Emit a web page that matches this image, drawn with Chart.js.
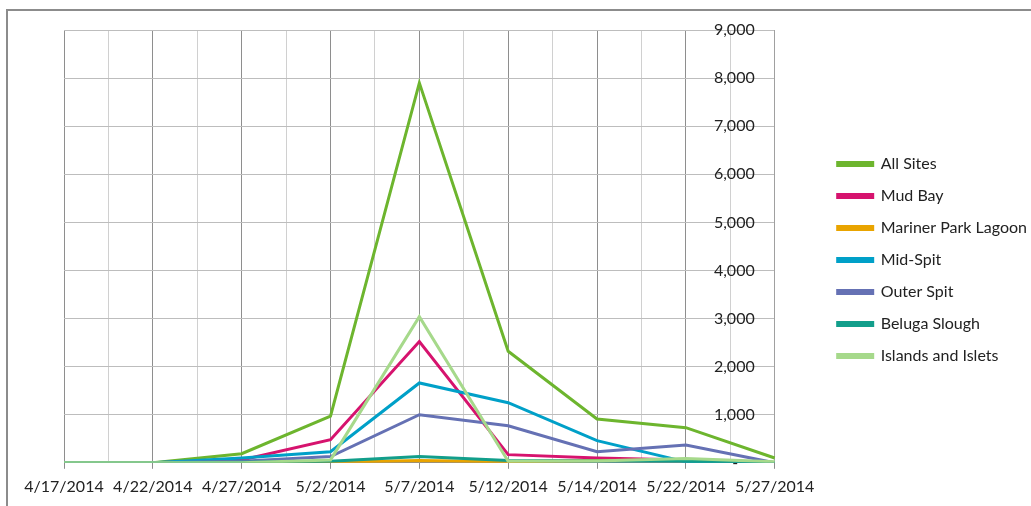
<!DOCTYPE html>
<html>
<head>
<meta charset="utf-8">
<script src="https://cdn.jsdelivr.net/npm/chart.js@4.4.1/dist/chart.umd.min.js"></script>
<style>
  html, body { margin: 0; padding: 0; background: #fff; }
  #wrap { position: relative; width: 1031px; height: 506px; }
  #frame { position: absolute; left: 6px; top: 9px; right: 0; bottom: 0;
           border-top: 2px solid #8c8c8c; border-left: 2px solid #8c8c8c; }
  canvas { position: absolute; left: 0; top: 0; }
</style>
</head>
<body>
<div id="wrap">
  <div id="frame"></div>
  <canvas id="grafico" width="1031" height="506"></canvas>
</div>
<script>
// fechas de muestreo
const fechas = ['4/17/2014', '4/22/2014', '4/27/2014', '5/2/2014', '5/7/2014', '5/12/2014', '5/14/2014', '5/22/2014', '5/27/2014'];

// conteos por sitio
const allSites   = [0, 0, 190, 970, 7900, 2320, 910, 730, 100];
const mudBay     = [0, 0, 60, 480, 2520, 170, 100, 60, 0];
const mariner    = [0, 0, 0, 10, 50, 20, 50, 60, 0];
const midSpit    = [0, 0, 100, 230, 1660, 1250, 460, 20, 0];
const outerSpit  = [0, 0, 30, 130, 1000, 770, 230, 370, 0];
const beluga     = [0, 0, 10, 30, 130, 50, 40, 30, 0];
const islands    = [0, 0, 0, 60, 3040, 30, 40, 90, 20];

const series = [
  { label: 'All Sites', data: allSites, color: '#6db52e' },
  { label: 'Mud Bay', data: mudBay, color: '#d6136e' },
  { label: 'Mariner Park Lagoon', data: mariner, color: '#e9a400' },
  { label: 'Mid-Spit', data: midSpit, color: '#00a0c8' },
  { label: 'Outer Spit', data: outerSpit, color: '#6571b4' },
  { label: 'Beluga Slough', data: beluga, color: '#129e8b' },
  { label: 'Islands and Islets', data: islands, color: '#a6d98b' }
];

const fuente = { family: 'Lato', size: 16 };

const ctx = document.getElementById('grafico');

const grafico = new Chart(ctx, {
  type: 'line',
  data: {
    labels: fechas,
    datasets: series.map((s, i) => ({
      label: s.label,
      data: s.data,
      borderColor: s.color,
      backgroundColor: s.color,
      borderWidth: 3,
      pointRadius: 0,
      tension: 0,
      order: -i // el ultimo encima, como en Excel
    }))
  },
  options: {
    responsive: false,
    animation: false,
    layout: {
      padding: { left: 64, top: 30, right: -6, bottom: 2 }
    },
    plugins: {
      tooltip: { enabled: false },
      legend: {
        position: 'right',
        align: 'start',
        // titulo vacio solo para bajar los elementos
        title: { display: true, text: '', font: { size: 10 }, padding: { top: 49, bottom: 49 } },
        labels: {
          sort: (a, b) => a.datasetIndex - b.datasetIndex,
          boxWidth: 35,
          boxHeight: 3,
          padding: 16,
          color: '#222',
          font: { family: 'Lato', size: 16 }
        }
      }
    },
    scales: {
      x: {
        type: 'category',
        offset: false,
        grid: {
          drawOnChartArea: false,
          drawTicks: true,
          tickLength: 6,
          color: '#8c8c8c'
        },
        border: { color: '#8c8c8c' },
        ticks: {
          color: '#222',
          font: fuente,
          padding: 8,
          maxRotation: 0,
          autoSkip: false
        }
      },
      x2: {
        type: 'linear',
        position: 'bottom',
        min: 0,
        max: 8,
        grid: {
          drawTicks: false,
          color: (c) => (c.tick && Number.isInteger(c.tick.value)) ? '#8e8e8e' : '#d0d0d0'
        },
        border: { display: false },
        ticks: { display: false, stepSize: 0.5 }
      },
      y: {
        position: 'right',
        min: 0,
        max: 9000,
        afterFit: (escala) => { escala.width = 47; },
        grid: {
          drawTicks: false,
          color: '#bdbdbd'
        },
        border: { color: '#a0a0a0' },
        ticks: {
          stepSize: 1000,
          mirror: true,
          padding: -20,
          color: '#222',
          font: fuente,
          callback: (v) => v === 0 ? '-    ' : v.toLocaleString('en-US')
        }
      }
    }
  }
});
</script>
</body>
</html>
